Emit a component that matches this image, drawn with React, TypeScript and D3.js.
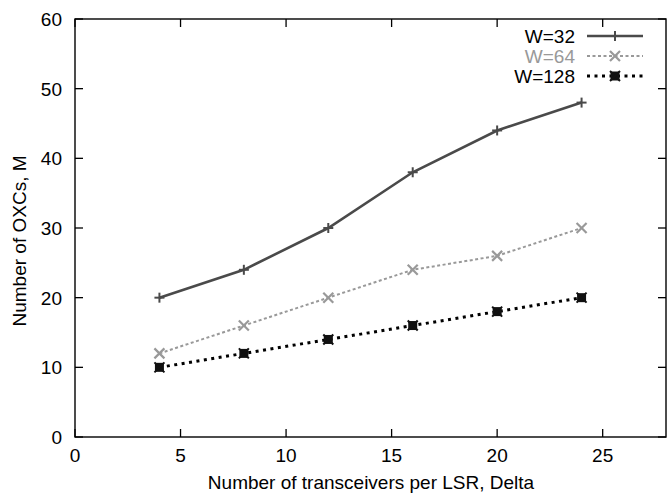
import React from "react";
import * as d3 from "d3";

const deltas = [4, 8, 12, 16, 20, 24];
const w32 = [20, 24, 30, 38, 44, 48];
const w64 = [12, 16, 20, 24, 26, 30];
const w128 = [10, 12, 14, 16, 18, 20];
const xTicks = [0, 5, 10, 15, 20, 25];
const yTicks = [0, 10, 20, 30, 40, 50, 60];
const seriesNames = ["W=32", "W=64", "W=128"];

const W = 667, H = 495;
const m = { left: 75, right: 1, top: 19, bottom: 58 };
const font = "'Liberation Sans', Arial, sans-serif";
const fs = 19;

type Style = { color: string; width: number; dash: string | undefined; marker: string; textColor: string };
const styles: Style[] = [
  { color: "#4a4a4a", width: 2.6, dash: undefined, marker: "plus", textColor: "#000" },
  { color: "#999", width: 2, dash: "3,2.5", marker: "cross", textColor: "#999" },
  { color: "#000", width: 3, dash: "3,4.5", marker: "box", textColor: "#000" },
];

function Marker({ x, y, s }: { x: number; y: number; s: Style }) {
  const r = 5;
  if (s.marker === "plus")
    return (
      <g stroke={s.color} strokeWidth={2}>
        <line x1={x - r} x2={x + r} y1={y} y2={y} />
        <line x1={x} x2={x} y1={y - r} y2={y + r} />
      </g>
    );
  if (s.marker === "cross")
    return (
      <g stroke={s.color} strokeWidth={2.2}>
        <line x1={x - r} x2={x + r} y1={y - r} y2={y + r} />
        <line x1={x - r} x2={x + r} y1={y + r} y2={y - r} />
      </g>
    );
  return (
    <g>
      <rect x={x - 4.5} y={y - 4.5} width={9} height={9} fill="#111" />
      <g stroke="#111" strokeWidth={2}>
        <line x1={x - r} x2={x + r} y1={y - r} y2={y + r} />
        <line x1={x - r} x2={x + r} y1={y + r} y2={y - r} />
      </g>
    </g>
  );
}

export default function App() {
  const x = d3.scaleLinear().domain([0, 28]).range([m.left, W - m.right]);
  const y = d3.scaleLinear().domain([0, 60]).range([H - m.bottom, m.top]);
  const data = [w32, w64, w128];
  const line = d3
    .line<[number, number]>()
    .x((d) => x(d[0]))
    .y((d) => y(d[1]));
  const tk = 8;
  const x0 = x(0), x1 = x(28), y0 = y(0), y1 = y(60);
  const legendX = 575;
  const legendY = [36, 56, 76];

  return (
    <svg width={W} height={H} style={{ position: "absolute", left: 0, top: 0, background: "#fff" }}
      fontFamily={font}>
      {/* ticks, mirrored on all four sides */}
      <g stroke="#000" strokeWidth={1.3}>
        {xTicks.map((t) => (
          <g key={"x" + t}>
            <line x1={x(t)} x2={x(t)} y1={y0} y2={y0 - tk} />
            <line x1={x(t)} x2={x(t)} y1={y1} y2={y1 + tk} />
          </g>
        ))}
        {yTicks.map((t) => (
          <g key={"y" + t}>
            <line x1={x0} x2={x0 + tk} y1={y(t)} y2={y(t)} />
            <line x1={x1} x2={x1 - tk} y1={y(t)} y2={y(t)} />
          </g>
        ))}
      </g>
      <rect x={x0} y={y1} width={x1 - x0} height={y0 - y1} fill="none" stroke="#000" strokeWidth={1.4} />
      {xTicks.map((t) => (
        <text key={"xl" + t} x={x(t)} y={462} textAnchor="middle" fontSize={fs}>
          {t}
        </text>
      ))}
      {yTicks.map((t) => (
        <text key={"yl" + t} x={x0 - 13} y={y(t) + 7} textAnchor="end" fontSize={fs}>
          {t}
        </text>
      ))}
      <text x={371} y={489} textAnchor="middle" fontSize={fs}>
        Number of transceivers per LSR, Delta
      </text>
      <text transform={`translate(26,${241}) rotate(-90)`} textAnchor="middle" fontSize={fs}>
        Number of OXCs, M
      </text>

      {data.map((vals, i) => {
        const pts = deltas.map((d, j) => [d, vals[j]] as [number, number]);
        const s = styles[i];
        return (
          <g key={"s" + i}>
            <path d={line(pts) || ""} fill="none" stroke={s.color} strokeWidth={s.width}
              strokeDasharray={s.dash} />
            {pts.map((p, j) => (
              <Marker key={j} x={x(p[0])} y={y(p[1])} s={s} />
            ))}
          </g>
        );
      })}

      {seriesNames.map((name, i) => {
        const s = styles[i];
        const ly = legendY[i];
        return (
          <g key={"l" + i}>
            <text x={legendX} y={ly + 7} textAnchor="end" fontSize={fs} fill={s.textColor}>
              {name}
            </text>
            <line x1={587} x2={643} y1={ly} y2={ly} stroke={s.color} strokeWidth={s.width}
              strokeDasharray={s.dash} />
            <Marker x={615} y={ly} s={s} />
          </g>
        );
      })}
    </svg>
  );
}
